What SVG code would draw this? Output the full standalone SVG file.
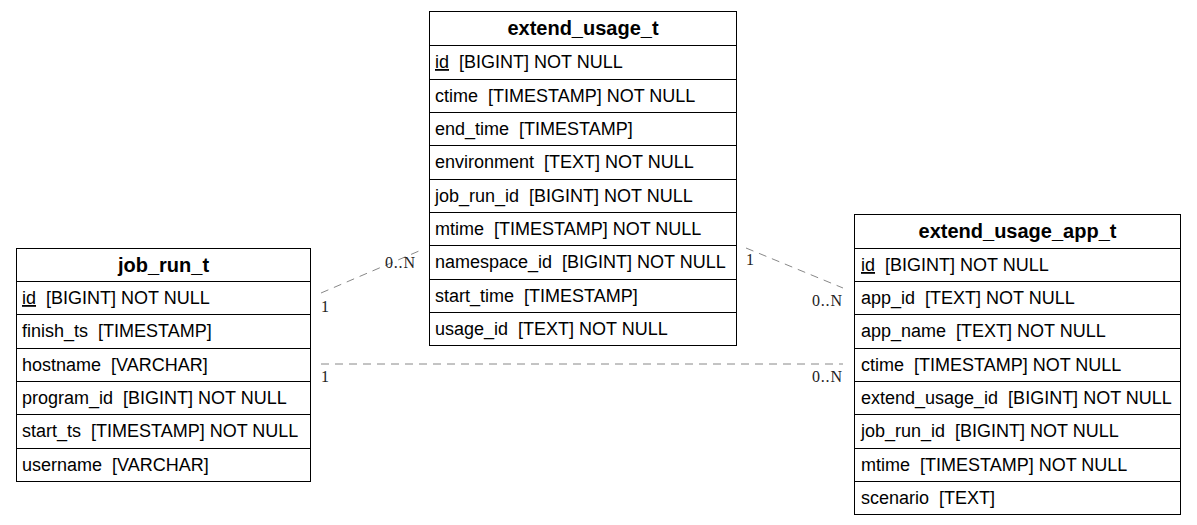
<svg xmlns="http://www.w3.org/2000/svg" width="1197" height="525" viewBox="0 0 1197 525">
<style>
.box{fill:#fff;stroke:#000;stroke-width:1}
.sep{stroke:#000;stroke-width:1}
.hdr{font-family:"Liberation Sans",Arial,sans-serif;font-size:20px;font-weight:bold;fill:#000;text-anchor:middle}
.row{font-family:"Liberation Sans",Arial,sans-serif;font-size:18px;fill:#000;white-space:pre}
.pk{text-decoration:underline}
.edge{stroke:#888;stroke-width:1;stroke-dasharray:8,6;fill:none}
.lbl{font-family:"Liberation Serif","Times New Roman",serif;font-size:16px;letter-spacing:0.8px;fill:#222}
</style>
<rect width="1197" height="525" fill="#fff"/>
<g id="connectors">
<line class="edge" x1="321" y1="293" x2="419" y2="251"/>
<text class="lbl" x="321" y="312">1</text>
<text class="lbl" x="385" y="268">0..N</text>
<line class="edge" x1="746" y1="248" x2="843" y2="288"/>
<text class="lbl" x="746" y="265">1</text>
<text class="lbl" x="812" y="306">0..N</text>
<line class="edge" x1="321" y1="364" x2="843" y2="364"/>
<text class="lbl" x="321" y="382">1</text>
<text class="lbl" x="812" y="382">0..N</text>
</g>
<g id="job_run_t">
<rect class="box" x="16.5" y="248.5" width="294" height="233"/>
<text class="hdr" x="163.5" y="272">job_run_t</text>
<line class="sep" x1="16.5" y1="281.5" x2="310.5" y2="281.5"/>
<line class="sep" x1="16.5" y1="314.5" x2="310.5" y2="314.5"/>
<line class="sep" x1="16.5" y1="348.5" x2="310.5" y2="348.5"/>
<line class="sep" x1="16.5" y1="381.5" x2="310.5" y2="381.5"/>
<line class="sep" x1="16.5" y1="414.5" x2="310.5" y2="414.5"/>
<line class="sep" x1="16.5" y1="448.5" x2="310.5" y2="448.5"/>
<text class="row" x="22" y="304" xml:space="preserve"><tspan class="pk">id</tspan>  [BIGINT] NOT NULL</text>
<text class="row" x="22" y="337" xml:space="preserve">finish_ts  [TIMESTAMP]</text>
<text class="row" x="22" y="371" xml:space="preserve">hostname  [VARCHAR]</text>
<text class="row" x="22" y="404" xml:space="preserve">program_id  [BIGINT] NOT NULL</text>
<text class="row" x="22" y="437" xml:space="preserve">start_ts  [TIMESTAMP] NOT NULL</text>
<text class="row" x="22" y="471" xml:space="preserve">username  [VARCHAR]</text>
</g>
<g id="extend_usage_t">
<rect class="box" x="429.5" y="11.5" width="307" height="334"/>
<text class="hdr" x="583" y="35">extend_usage_t</text>
<line class="sep" x1="429.5" y1="45.5" x2="736.5" y2="45.5"/>
<line class="sep" x1="429.5" y1="79.5" x2="736.5" y2="79.5"/>
<line class="sep" x1="429.5" y1="112.5" x2="736.5" y2="112.5"/>
<line class="sep" x1="429.5" y1="145.5" x2="736.5" y2="145.5"/>
<line class="sep" x1="429.5" y1="179.5" x2="736.5" y2="179.5"/>
<line class="sep" x1="429.5" y1="212.5" x2="736.5" y2="212.5"/>
<line class="sep" x1="429.5" y1="245.5" x2="736.5" y2="245.5"/>
<line class="sep" x1="429.5" y1="279.5" x2="736.5" y2="279.5"/>
<line class="sep" x1="429.5" y1="312.5" x2="736.5" y2="312.5"/>
<text class="row" x="435" y="68" xml:space="preserve"><tspan class="pk">id</tspan>  [BIGINT] NOT NULL</text>
<text class="row" x="435" y="102" xml:space="preserve">ctime  [TIMESTAMP] NOT NULL</text>
<text class="row" x="435" y="135" xml:space="preserve">end_time  [TIMESTAMP]</text>
<text class="row" x="435" y="168" xml:space="preserve">environment  [TEXT] NOT NULL</text>
<text class="row" x="435" y="202" xml:space="preserve">job_run_id  [BIGINT] NOT NULL</text>
<text class="row" x="435" y="235" xml:space="preserve">mtime  [TIMESTAMP] NOT NULL</text>
<text class="row" x="435" y="268" xml:space="preserve">namespace_id  [BIGINT] NOT NULL</text>
<text class="row" x="435" y="302" xml:space="preserve">start_time  [TIMESTAMP]</text>
<text class="row" x="435" y="335" xml:space="preserve">usage_id  [TEXT] NOT NULL</text>
</g>
<g id="extend_usage_app_t">
<rect class="box" x="854.5" y="214.5" width="326" height="300"/>
<text class="hdr" x="1017.5" y="238">extend_usage_app_t</text>
<line class="sep" x1="854.5" y1="248.5" x2="1180.5" y2="248.5"/>
<line class="sep" x1="854.5" y1="281.5" x2="1180.5" y2="281.5"/>
<line class="sep" x1="854.5" y1="314.5" x2="1180.5" y2="314.5"/>
<line class="sep" x1="854.5" y1="348.5" x2="1180.5" y2="348.5"/>
<line class="sep" x1="854.5" y1="381.5" x2="1180.5" y2="381.5"/>
<line class="sep" x1="854.5" y1="414.5" x2="1180.5" y2="414.5"/>
<line class="sep" x1="854.5" y1="448.5" x2="1180.5" y2="448.5"/>
<line class="sep" x1="854.5" y1="481.5" x2="1180.5" y2="481.5"/>
<text class="row" x="861" y="271" xml:space="preserve"><tspan class="pk">id</tspan>  [BIGINT] NOT NULL</text>
<text class="row" x="861" y="304" xml:space="preserve">app_id  [TEXT] NOT NULL</text>
<text class="row" x="861" y="337" xml:space="preserve">app_name  [TEXT] NOT NULL</text>
<text class="row" x="861" y="371" xml:space="preserve">ctime  [TIMESTAMP] NOT NULL</text>
<text class="row" x="861" y="404" xml:space="preserve">extend_usage_id  [BIGINT] NOT NULL</text>
<text class="row" x="861" y="437" xml:space="preserve">job_run_id  [BIGINT] NOT NULL</text>
<text class="row" x="861" y="471" xml:space="preserve">mtime  [TIMESTAMP] NOT NULL</text>
<text class="row" x="861" y="504" xml:space="preserve">scenario  [TEXT]</text>
</g>
</svg>
